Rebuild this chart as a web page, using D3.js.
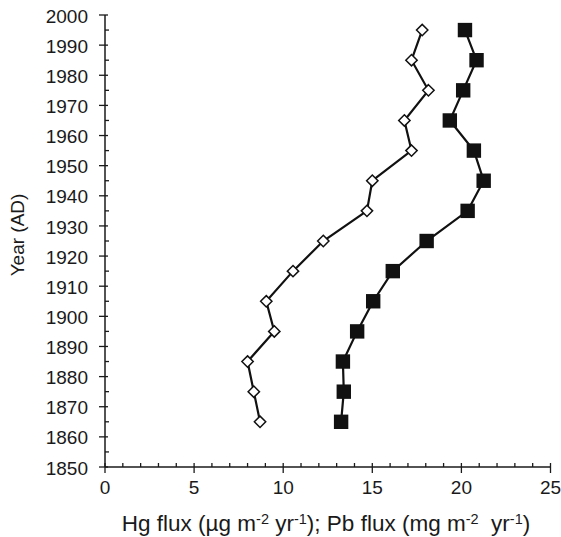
<!DOCTYPE html>
<html>
<head>
<meta charset="utf-8">
<script src="https://cdn.jsdelivr.net/npm/d3@7"></script>
<style>
  body { margin: 0; background: #fff; }
  text { font-family: "Liberation Sans", Arial, sans-serif; fill: #1a1a1a; }
</style>
</head>
<body>
<div id="chart"></div>
<script>
// data
const years = [1865, 1875, 1885, 1895, 1905, 1915, 1925, 1935, 1945, 1955, 1965, 1975, 1985, 1995]
const hgFlux = [8.7, 8.35, 8.0, 9.5, 9.05, 10.55, 12.25, 14.7, 15.0, 17.2, 16.8, 18.15, 17.2, 17.8]
const pbFlux = [13.25, 13.4, 13.35, 14.15, 15.05, 16.15, 18.05, 20.35, 21.25, 20.7, 19.35, 20.1, 20.85, 20.2]
const xTicks = [0, 5, 10, 15, 20, 25]
const yTicks = d3.range(1850, 2001, 10)

const WIDTH = 561
const HEIGHT = 537
const margin = { top: 15, right: 10.5, bottom: 70, left: 105 }

const svg = d3.select('#chart').append('svg')
  .attr('width', WIDTH)
  .attr('height', HEIGHT)

const x = d3.scaleLinear().domain([0, 25]).range([margin.left, WIDTH - margin.right])
const y = d3.scaleLinear().domain([1850, 2000]).range([HEIGHT - margin.bottom, margin.top])

const axisColor = '#1a1a1a'

// y axis
const yAxis = svg.append('g').attr('transform', `translate(${margin.left},0)`)
yAxis.append('line')
  .attr('y1', y(1850)).attr('y2', y(2000))
  .attr('stroke', axisColor).attr('stroke-width', 1.5)
yAxis.selectAll('.major').data(yTicks).enter().append('line')
  .attr('x1', -6).attr('x2', 3)
  .attr('y1', d => y(d)).attr('y2', d => y(d))
  .attr('stroke', axisColor).attr('stroke-width', 1.3)
yAxis.selectAll('.minor').data(d3.range(1855, 2000, 10)).enter().append('line')
  .attr('x1', 0).attr('x2', 4)
  .attr('y1', d => y(d)).attr('y2', d => y(d))
  .attr('stroke', axisColor).attr('stroke-width', 1.3)
yAxis.selectAll('.lbl').data(yTicks).enter().append('text')
  .attr('x', -17).attr('y', d => y(d))
  .attr('dy', '0.4em')
  .attr('text-anchor', 'end')
  .style('font-size', '19px')
  .text(d => d)

// x axis
const xAxis = svg.append('g').attr('transform', `translate(0,${y(1850)})`)
xAxis.append('line')
  .attr('x1', x(0)).attr('x2', x(25))
  .attr('stroke', axisColor).attr('stroke-width', 1.5)
xAxis.selectAll('.major').data(xTicks).enter().append('line')
  .attr('x1', d => x(d)).attr('x2', d => x(d))
  .attr('y1', -4).attr('y2', 6)
  .attr('stroke', axisColor).attr('stroke-width', 1.3)
xAxis.selectAll('.minor').data(d3.range(1, 25).filter(d => d % 5 !== 0)).enter().append('line')
  .attr('x1', d => x(d)).attr('x2', d => x(d))
  .attr('y1', -4).attr('y2', 0)
  .attr('stroke', axisColor).attr('stroke-width', 1.3)
xAxis.selectAll('.lbl').data(xTicks).enter().append('text')
  .attr('x', d => x(d)).attr('y', 26.5)
  .attr('text-anchor', 'middle')
  .style('font-size', '19px')
  .text(d => d)

// axis titles
svg.append('text')
  .attr('transform', 'translate(24,235) rotate(-90)')
  .attr('text-anchor', 'middle')
  .style('font-size', '19px')
  .text('Year (AD)')

const xTitle = svg.append('text')
  .attr('x', 326).attr('y', 531)
  .attr('text-anchor', 'middle')
  .style('font-size', '22.5px')
const parts = [
  ['Hg flux (µg m', false], ['-2', true], [' yr', false], ['-1', true],
  ['); Pb flux (mg m', false], ['-2', true], ['  yr', false], ['-1', true], [')', false]
]
parts.forEach(([t, sup]) => {
  xTitle.append('tspan')
    .style('font-size', sup ? '14.5px' : '22.5px')
    .attr('baseline-shift', sup ? '7px' : null)
    .style('white-space', 'pre')
    .text(t)
})

// lines
const line = vals => d3.line()
  .x((d, i) => x(vals[i]))
  .y(d => y(d))(years)

svg.append('path').attr('d', line(pbFlux))
  .attr('fill', 'none').attr('stroke', '#111').attr('stroke-width', 2.2)
svg.append('path').attr('d', line(hgFlux))
  .attr('fill', 'none').attr('stroke', '#111').attr('stroke-width', 2.2)

// Pb squares
svg.selectAll('.pb').data(years).enter().append('rect')
  .attr('x', (d, i) => x(pbFlux[i]) - 7.2)
  .attr('y', d => y(d) - 7.2)
  .attr('width', 14.4).attr('height', 14.4)
  .attr('fill', '#111')

// Hg diamonds
const diamond = d3.symbol().type(d3.symbolDiamond2).size(82)
svg.selectAll('.hg').data(years).enter().append('path')
  .attr('d', diamond)
  .attr('transform', (d, i) => `translate(${x(hgFlux[i])},${y(d)})`)
  .attr('fill', '#fff')
  .attr('stroke', '#111')
  .attr('stroke-width', 1.5)
</script>
</body>
</html>
